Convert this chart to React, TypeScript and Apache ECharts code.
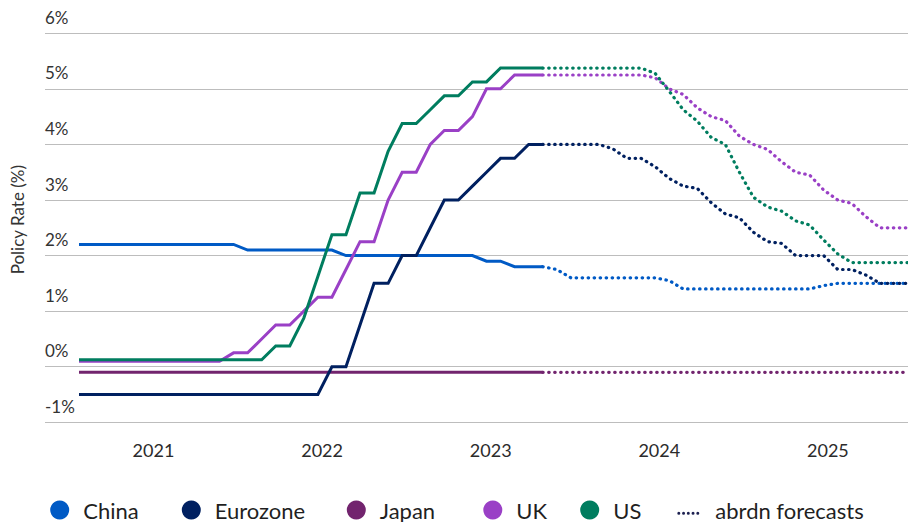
import React, { useEffect, useRef } from "react";
import * as echarts from "echarts";

// Monthly policy rates (%), index 0 = Jan 2021 ... index 59 = Dec 2025
// Actual: Jan 2021 – Oct 2023 (index 0..33); forecasts start at the last actual month.
const yearLabels = ["2021", "2022", "2023", "2024", "2025"];

const chinaActual = [
  2.2, 2.2, 2.2, 2.2, 2.2, 2.2, 2.2, 2.2, 2.2, 2.2, 2.2, 2.2,
  2.1, 2.1, 2.1, 2.1, 2.1, 2.1, 2.1,
  2.0, 2.0, 2.0, 2.0, 2.0, 2.0, 2.0, 2.0, 2.0, 2.0,
  1.9, 1.9, 1.8, 1.8, 1.8,
];
const chinaForecast = [
  1.8, 1.75, 1.6, 1.6, 1.6, 1.6, 1.6, 1.6, 1.6, 1.55,
  1.4, 1.4, 1.4, 1.4, 1.4, 1.4, 1.4, 1.4, 1.4, 1.4,
  1.46, 1.5, 1.5, 1.5, 1.5, 1.5, 1.5,
];

const euroActual = [
  -0.5, -0.5, -0.5, -0.5, -0.5, -0.5, -0.5, -0.5, -0.5, -0.5, -0.5, -0.5,
  -0.5, -0.5, -0.5, -0.5, -0.5, -0.5,
  0, 0, 0.75, 1.5, 1.5, 2.0, 2.0, 2.5, 3.0, 3.0, 3.25, 3.5, 3.75, 3.75, 4.0, 4.0,
];
const euroForecast = [
  4.0, 4.0, 4.0, 4.0, 4.0, 3.92, 3.75, 3.75, 3.6, 3.39,
  3.25, 3.21, 2.95, 2.75, 2.68, 2.42, 2.25, 2.22, 2.0, 2.0,
  2.0, 1.75, 1.75, 1.65, 1.5, 1.5, 1.5,
];

const japanActual = [
  -0.1, -0.1, -0.1, -0.1, -0.1, -0.1, -0.1, -0.1, -0.1, -0.1, -0.1, -0.1,
  -0.1, -0.1, -0.1, -0.1, -0.1, -0.1, -0.1, -0.1, -0.1, -0.1, -0.1, -0.1,
  -0.1, -0.1, -0.1, -0.1, -0.1, -0.1, -0.1, -0.1, -0.1, -0.1,
];
const japanForecast = [
  -0.1, -0.1, -0.1, -0.1, -0.1, -0.1, -0.1, -0.1, -0.1, -0.1,
  -0.1, -0.1, -0.1, -0.1, -0.1, -0.1, -0.1, -0.1, -0.1, -0.1,
  -0.1, -0.1, -0.1, -0.1, -0.1, -0.1, -0.1,
];

const ukActual = [
  0.1, 0.1, 0.1, 0.1, 0.1, 0.1, 0.1, 0.1, 0.1, 0.1, 0.1,
  0.25, 0.25, 0.5, 0.75, 0.75, 1.0, 1.25, 1.25, 1.75, 2.25, 2.25,
  3.0, 3.5, 3.5, 4.0, 4.25, 4.25, 4.5, 5.0, 5.0, 5.25, 5.25, 5.25,
];
const ukForecast = [
  5.25, 5.25, 5.25, 5.25, 5.25, 5.25, 5.25, 5.25, 5.2, 5.0,
  4.9, 4.66, 4.5, 4.43, 4.15, 4.0, 3.91, 3.69, 3.5, 3.45,
  3.18, 3.0, 2.94, 2.7, 2.5, 2.5, 2.5,
];

const usActual = [
  0.125, 0.125, 0.125, 0.125, 0.125, 0.125, 0.125, 0.125, 0.125, 0.125,
  0.125, 0.125, 0.125, 0.125,
  0.375, 0.375, 0.875, 1.625, 2.375, 2.375, 3.125, 3.125, 3.875, 4.375,
  4.375, 4.625, 4.875, 4.875, 5.125, 5.125, 5.375, 5.375, 5.375, 5.375,
];
const usForecast = [
  5.375, 5.375, 5.375, 5.375, 5.375, 5.375, 5.375, 5.375, 5.28, 4.96,
  4.625, 4.42, 4.125, 4.0, 3.5, 3.05, 2.875, 2.8, 2.625, 2.55,
  2.28, 2.03, 1.875, 1.875, 1.875, 1.875, 1.875,
];

const FONT = "Lato, 'Open Sans', sans-serif";
const COLORS: Record<string, string> = {
  China: "#005ac5",
  Eurozone: "#002060",
  Japan: "#72246e",
  UK: "#9a40c6",
  US: "#007d5f",
  "abrdn forecasts": "#1c2050",
};

const DOTS_ICON =
  "path://M0,0M22,19" +
  "M3,12.8A1.5,1.5,0,1,1,0,12.8A1.5,1.5,0,1,1,3,12.8Z" +
  "M7.75,12.8A1.5,1.5,0,1,1,4.75,12.8A1.5,1.5,0,1,1,7.75,12.8Z" +
  "M12.5,12.8A1.5,1.5,0,1,1,9.5,12.8A1.5,1.5,0,1,1,12.5,12.8Z" +
  "M17.25,12.8A1.5,1.5,0,1,1,14.25,12.8A1.5,1.5,0,1,1,17.25,12.8Z" +
  "M22,12.8A1.5,1.5,0,1,1,19,12.8A1.5,1.5,0,1,1,22,12.8Z";

function buildSeries() {
  const countries: [string, number[], number[]][] = [
    ["China", chinaActual, chinaForecast],
    ["Japan", japanActual, japanForecast],
    ["Eurozone", euroActual, euroForecast],
    ["UK", ukActual, ukForecast],
    ["US", usActual, usForecast],
  ];
  const series: any[] = [];
  countries.forEach(([name, actual, forecast]) => {
    const start = actual.length - 1;
    series.push({
      name,
      type: "line",
      symbol: "none",
      color: COLORS[name],
      lineStyle: { width: 3, color: COLORS[name], cap: "butt", join: "miter" },
      data: actual.map((v, i) => [i, v]),
      z: 3,
    });
    series.push({
      name,
      type: "line",
      symbol: "none",
      color: COLORS[name],
      lineStyle: {
        width: 3.2,
        color: COLORS[name],
        type: [0.5, 5.5],
        cap: "round",
      },
      data: forecast.map((v, i) => [start + i, v]),
      z: 2,
    });
  });
  series.push({
    name: "abrdn forecasts",
    type: "line",
    symbol: "none",
    color: COLORS["abrdn forecasts"],
    data: [],
  });
  return series;
}

function legendAt(name: string, left: number, icon: string, w: number, pad: number) {
  return {
    show: true,
    left,
    top: 499,
    padding: 0,
    orient: "horizontal",
    selectedMode: false,
    itemWidth: w,
    itemHeight: 19,
    data: [{ name, icon }],
    textStyle: {
      fontFamily: FONT,
      fontSize: 22,
      lineHeight: 22,
      color: "#1f1f1f",
      padding: [0, 0, 0, pad],
    },
  };
}

export default function App() {
  const ref = useRef<HTMLDivElement>(null);
  useEffect(() => {
    if (!ref.current) return;
    const chart = echarts.init(ref.current, undefined, { renderer: "svg" });
    const option: any = {
      animation: false,
      backgroundColor: "#ffffff",
      textStyle: { fontFamily: FONT },
      grid: { left: 45, right: 0, top: 33.3, bottom: 99.7 },
      xAxis: {
        type: "value",
        min: -2.42,
        max: 59,
        axisLine: { show: false },
        axisTick: { show: false },
        splitLine: { show: false },
        axisLabel: {
          customValues: yearLabels.map((_, k) => 12 * k + 5.3),
          formatter: (v: number) => yearLabels[Math.round((v - 5.3) / 12)] ?? "",
          fontFamily: FONT,
          fontSize: 18,
          color: "#2b2b2b",
          margin: 19,
        },
      },
      yAxis: {
        type: "value",
        min: -1,
        max: 6,
        interval: 1,
        axisLine: { show: false },
        axisTick: { show: false },
        splitLine: { lineStyle: { color: "#bdbdbd", width: 1 } },
        axisLabel: {
          inside: true,
          margin: 0,
          align: "left",
          verticalAlign: "bottom",
          lineHeight: 32,
          formatter: (v: number) => `${v}%`,
          fontFamily: FONT,
          fontSize: 17,
          color: "#333333",
        },
      },
      legend: [
        legendAt("China", 50.2, "circle", 19, 9),
        legendAt("Eurozone", 181.8, "circle", 19, 9),
        legendAt("Japan", 346.8, "circle", 19, 9),
        legendAt("UK", 483.3, "circle", 19, 9),
        legendAt("US", 580.2, "circle", 19, 9),
        legendAt("abrdn forecasts", 677.3, DOTS_ICON, 22, 11),
      ],
      graphic: [
        {
          type: "text",
          x: 17.5,
          y: 219.7,
          rotation: Math.PI / 2,
          style: {
            text: "Policy Rate (%)",
            fontFamily: FONT,
            fontSize: 17,
            fill: "#333333",
            align: "center",
            verticalAlign: "middle",
          },
        },
      ],
      series: buildSeries(),
    };
    chart.setOption(option);
    return () => chart.dispose();
  }, []);
  return (
    <div
      ref={ref}
      style={{ position: "absolute", left: 0, top: 0, width: 908, height: 522 }}
    />
  );
}
